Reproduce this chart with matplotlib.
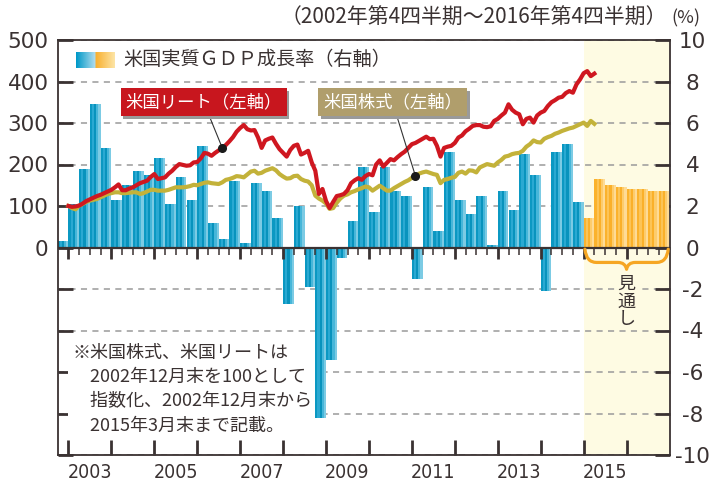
import numpy as np
import matplotlib.pyplot as plt
import matplotlib.patheffects as pe
from matplotlib.path import Path
from matplotlib.patches import PathPatch

plt.rcParams['font.family'] = ['Noto Sans CJK JP', 'DejaVu Sans']
plt.rcParams['axes.unicode_minus'] = False

# GDP growth (%), quarterly: 2002Q4-2014Q4 actual, 2015Q1-2016Q4 outlook
gdp_actual = [0.3,
              2.1, 3.8, 6.9, 4.8,
              2.3, 3.0, 3.7, 3.5,
              4.3, 2.1, 3.4, 2.3,
              4.9, 1.2, 0.4, 3.2,
              0.2, 3.1, 2.7, 1.4,
              -2.7, 2.0, -1.9, -8.2,
              -5.4, -0.5, 1.3, 3.9,
              1.7, 3.9, 2.7, 2.5,
              -1.5, 2.9, 0.8, 4.6,
              2.3, 1.6, 2.5, 0.1,
              2.7, 1.8, 4.5, 3.5,
              -2.1, 4.6, 5.0, 2.2]
gdp_outlook = [1.4, 3.3, 3.0, 2.9, 2.8, 2.8, 2.7, 2.7]

# month-end index values, Dec 2002 = 100 ... Mar 2015
reit = [100, 98, 99, 101, 106, 112, 116, 120, 124, 127, 131, 135,
        139, 145, 152, 138, 138, 142, 145, 150, 155, 158, 161, 170,
        177, 165, 167, 169, 178, 185, 194, 201, 199, 197, 198, 205,
        206, 215, 228, 226, 221, 228, 234, 240, 247, 256, 266, 279,
        288, 295, 285, 282, 283, 265, 240, 258, 262, 265, 250, 237,
        228, 219, 235, 245, 248, 224, 228, 233, 205, 185, 129, 141,
        112, 95, 110, 124, 126, 129, 138, 155, 162, 167, 163, 172,
        177, 174, 200, 210, 195, 204, 213, 210, 218, 225, 231, 240,
        249, 252, 257, 262, 267, 261, 262, 245, 219, 240, 243, 245,
        252, 265, 270, 280, 286, 293, 295, 295, 291, 290, 292, 305,
        310, 318, 325, 345, 332, 325, 321, 297, 310, 313, 301, 318,
        325, 329, 341, 350, 355, 361, 363, 372, 377, 373, 393, 405,
        420, 425, 413, 419]
stocks = [100, 95, 92, 101, 105, 110, 113, 115, 117, 121, 125, 129,
          131, 133, 133, 131, 131, 132, 133, 133, 129, 131, 135, 139,
          139, 137, 137, 137, 139, 142, 145, 145, 145, 146, 148, 151,
          150, 153, 156, 157, 155, 154, 153, 157, 163, 165, 168, 172,
          171, 169, 176, 183, 185, 178, 180, 185, 188, 191, 186, 177,
          171, 166, 167, 172, 173, 165, 161, 159, 150, 125, 118, 113,
          106, 93, 95, 108, 118, 125, 128, 133, 136, 140, 143, 147,
          145, 137, 143, 149, 143, 137, 137, 143, 148, 153, 158, 162,
          168, 172, 178, 181, 183, 180, 177, 175, 155, 163, 165, 168,
          170, 180, 183, 178, 186, 185, 181, 193, 197, 201, 199, 197,
          205, 211, 219, 221, 225, 227, 228, 233, 243, 249, 258, 254,
          253, 262, 266, 269, 274, 277, 281, 284, 287, 289, 293, 297,
          301, 293, 305, 298]

start_q = 2002.75
fc_start = 2015.0
end_x = 2017.0
year_labels = ['2003', '2005', '2007', '2009', '2011', '2013', '2015']

dark = '#3a3232'
blue_stripes = ['#0b98c2', '#2aa9d2', '#0893bd', '#46b6d9', '#7ccbe4']
orange_stripes = ['#fbb22c', '#fcc457', '#fab02a', '#fdcc6c', '#fedb96']

fig = plt.figure(figsize=(7.13, 4.87), dpi=100)
ax = fig.add_axes([57.7 / 713, 32 / 487, 611.8 / 713, 415 / 487])
ax2 = ax.twinx()

ax.set_xlim(start_q, end_x)
ax.set_ylim(-10, 10)
ax2.set_ylim(-500, 500)

ax.axvspan(fc_start, end_x, color='#fefbe3', zorder=0.2, lw=0)

# bars with vertical stripes
qa = start_q + 0.25 * np.arange(len(gdp_actual))
qf = fc_start + 0.25 * np.arange(len(gdp_outlook))
n = len(blue_stripes)
for k in range(n):
    ax.bar(qa + k * 0.25 / n, gdp_actual, width=0.25 / n, align='edge',
           color=blue_stripes[k], lw=0, zorder=2)
    ax.bar(qf + k * 0.25 / n, gdp_outlook, width=0.25 / n, align='edge',
           color=orange_stripes[k], lw=0, zorder=2)

# grid and y ticks
ax.set_yticks(range(-10, 11, 2))
ax.set_axisbelow(True)
ax.yaxis.grid(True, color='#9a9a9a', lw=1.1, linestyle=(0, (4, 3.5)))
ax.tick_params(axis='y', direction='in', length=11, width=2, color=dark,
               left=True, right=True, labelleft=False, labelright=True,
               labelsize=15.5, labelcolor=dark, pad=16.5)
for lab in ax.get_yticklabels():
    lab.set_horizontalalignment('center')
    lab.set_fontfamily('DejaVu Sans')

ax2.yaxis.tick_left()
ax2.set_yticks(range(0, 501, 100))
ax2.tick_params(axis='y', length=0, labelsize=15.5, labelcolor=dark, pad=6.5)
for lab in ax2.get_yticklabels():
    lab.set_fontfamily('DejaVu Sans')

# x ticks
years = np.arange(2003, 2017)
ax.set_xticks(years)
ax.set_xticks([int(y) + 0.5 for y in year_labels], labels=year_labels, minor=True)
ax.tick_params(axis='x', which='major', direction='in', length=11, width=2,
               color=dark, labelbottom=False)
ax.tick_params(axis='x', which='minor', length=0, labelsize=14, labelcolor=dark, pad=6)
for lab in ax.get_xticklabels(minor=True):
    lab.set_fontfamily('DejaVu Sans')
    lab.set_fontstretch('condensed')

for sp in ax.spines.values():
    sp.set_color(dark)
    sp.set_linewidth(1.3)
for sp in ax2.spines.values():
    sp.set_visible(False)

# zero line with quarter ticks
ax.axhline(0, color=dark, lw=1.6, zorder=4)
quarters = np.arange(2003, end_x, 0.25)
ax.vlines(quarters[quarters % 1 != 0], -0.36, 0, color=dark, lw=1.1, zorder=4)
ax.vlines(years, -0.55, 0, color=dark, lw=2, zorder=4)

# brace under the outlook
xm = (fc_start + end_x) / 2
lv, tip = -0.72, -1.05
verts = [(fc_start + 0.03, -0.08),
         (fc_start + 0.06, lv), (fc_start + 0.3, lv),
         (xm - 0.2, lv),
         (xm - 0.03, lv), (xm, tip),
         (xm + 0.03, lv), (xm + 0.2, lv),
         (end_x - 0.3, lv),
         (end_x - 0.06, lv), (end_x - 0.03, -0.08)]
codes = [Path.MOVETO, Path.CURVE3, Path.CURVE3, Path.LINETO,
         Path.CURVE3, Path.CURVE3, Path.CURVE3, Path.CURVE3,
         Path.LINETO, Path.CURVE3, Path.CURVE3]
ax.add_patch(PathPatch(Path(verts, codes), fill=False, ec='#f6a623', lw=2.3,
                       capstyle='round', joinstyle='round', zorder=4))
ax.text(xm, -2.6, '見\n通\nし', ha='center', va='center', fontsize=13,
        color=dark, linespacing=1.0, zorder=3,
        bbox=dict(boxstyle='square,pad=0.1', fc='#fefbe3', ec='none'))

# index lines
t = 2003 + np.arange(len(reit)) / 12
ax2.plot(t, stocks, color='#c3b23a', lw=3, zorder=5, solid_joinstyle='round')
ax2.plot(t, reit, color='#cf1720', lw=3, zorder=5, solid_joinstyle='round')

i_r, i_s = 43, 97
ax2.plot(t[i_r], reit[i_r], 'o', color='#1a1a1a', ms=5.5, zorder=7)
ax2.plot(t[i_s], stocks[i_s], 'o', color='#1a1a1a', ms=5.5, zorder=7)


def label_box(x, y, txt, fc, target):
    a = ax2.annotate(txt, xy=target, xytext=(x, y), ha='center', va='center',
                     fontsize=12.5, color='white', zorder=6,
                     bbox=dict(boxstyle='square,pad=0.28', fc=fc, ec='none'),
                     arrowprops=dict(arrowstyle='-', color='#333333', lw=0.8,
                                     shrinkA=0, shrinkB=0))
    a.get_bbox_patch().set_path_effects([
        pe.SimplePatchShadow(offset=(2, -2), shadow_rgbFace='#9a9a9a', alpha=1),
        pe.Normal()])


label_box(2006.15, 350, '米国リート（左軸）', '#c8161e', (t[i_r], reit[i_r]))
label_box(2010.55, 350, '米国株式（左軸）', '#b09e6c', (t[i_s], stocks[i_s]))

# legend for the bars
sw = fig.add_axes([76 / 713, 1 - 68 / 487, 39 / 713, 16 / 487])
b = np.linspace(0, 1, 20)[:, None]
blue = np.array([0, 153, 200]) * (1 - b) + np.array([175, 220, 238]) * b
orng = np.array([248, 176, 48]) * (1 - b) + np.array([253, 228, 165]) * b
grad = np.vstack([blue, orng])[None, :, :] / 255
sw.imshow(np.repeat(grad, 4, axis=0), aspect='auto', interpolation='bilinear')
sw.axis('off')
ax.text(0.1067, 0.954, '米国実質ＧＤＰ成長率（右軸）', transform=ax.transAxes,
        ha='left', va='center', fontsize=13.8, color=dark, zorder=6)

# note
note = ('※米国株式、米国リートは\n'
        '　2002年12月末を100として\n'
        '　指数化、2002年12月末から\n'
        '　2015年3月末まで記載。')
ax.text(0.0234, 0.268, note, transform=ax.transAxes, ha='left', va='top',
        fontsize=13, color=dark, linespacing=1.45, zorder=1.5,
        bbox=dict(boxstyle='square,pad=0.2', fc='white', ec='none'))

fig.text(667 / 713, 1 - 18 / 487, '（2002年第4四半期～2016年第4四半期）',
         ha='right', va='center', fontsize=15, color=dark)
fig.text(671 / 713, 1 - 18 / 487, '(%)', ha='left', va='center',
         fontsize=13, color=dark)

fig.savefig('out.png', dpi=100)
